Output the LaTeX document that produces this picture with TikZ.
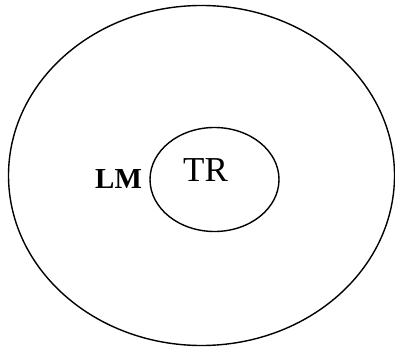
\documentclass[tikz,border=0pt]{standalone}
\usepackage{fontspec}
\setmainfont{Liberation Serif}
\usetikzlibrary{shapes.geometric}
\begin{document}
\begin{tikzpicture}[x=1pt,y=-1pt,
  ring/.style={draw=black, line width=1.4pt, ellipse, inner sep=0pt},
  lbl/.style={inner sep=0pt, anchor=base west}]
\useasboundingbox (0,0) rectangle (395,347);
\node[ring, minimum width=386pt, minimum height=340pt] (outer) at (201.5,175.5) {};
\node[ring, minimum width=129pt, minimum height=104pt] (inner) at (214.5,179.5) {};
\node[lbl, font={\fontsize{29}{31}\selectfont\bfseries}] (lm) at (95,188) {LM};
\node[lbl, font={\fontsize{35}{37}\selectfont}] (tr) at (183,182) {TR};
\end{tikzpicture}
\end{document}
